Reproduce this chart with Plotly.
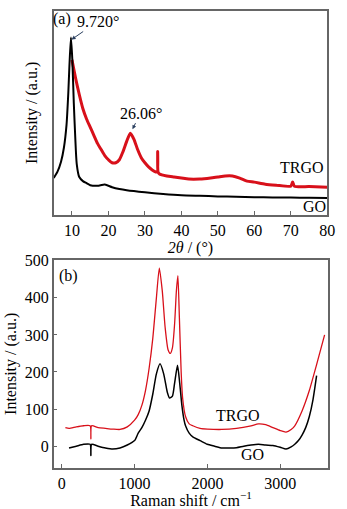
import plotly.graph_objects as go

# ---- (a) XRD data ----
xrd_go_x = [5, 6, 7, 7.8, 8.5, 9.0, 9.3, 9.72, 10.1, 10.5, 10.9, 11.3, 12, 13, 14, 15, 17, 19, 21, 23, 25, 30, 35, 40, 45, 50, 55, 60, 65, 70, 75, 80]
xrd_go_y = [18, 21, 26, 33, 44, 60, 73, 87, 76, 55, 38, 25, 18.5, 16.5, 15.5, 14.5, 14.2, 14.8, 13.5, 12.6, 12, 11, 10.2, 9.6, 9.3, 9.0, 8.8, 8.6, 8.5, 8.4, 8.3, 8.2]
xrd_trgo_x = [10, 11, 12, 13, 14, 15, 16, 17, 18, 19, 20, 21, 22, 23, 24, 25, 26, 27, 28, 29, 30, 31, 32, 33, 33.4, 33.5, 33.6, 34, 36, 38, 40, 42, 45, 48, 50, 52, 54, 56, 58, 60, 63, 66, 70, 70.5, 71, 75, 80]
xrd_trgo_y = [76, 67, 59, 52, 47, 43, 39, 35, 32, 29, 27, 25.5, 25.5, 27, 31, 36, 40, 37, 32, 28, 25.5, 23.5, 22, 21, 21, 31, 21, 20, 19, 18.5, 18, 17.5, 17.5, 18, 18.5, 19, 19, 18, 16.5, 16, 15, 14.5, 14, 16, 14, 13.8, 13.5]

# ---- (b) Raman data ----
ram_go_x = [100, 200, 300, 390, 400, 410, 500, 600, 700, 800, 900, 1000, 1050, 1100, 1150, 1200, 1250, 1300, 1350, 1400, 1450, 1480, 1520, 1550, 1590, 1620, 1650, 1680, 1700, 1750, 1800, 1900, 2000, 2100, 2200, 2300, 2400, 2500, 2600, 2700, 2800, 2900, 3000, 3080, 3150, 3200, 3250, 3300, 3350, 3400, 3450, 3500]
ram_go_y = [-5, 0, 5, 5, -25, 5, 0, -5, -8, -5, 3, 15, 35, 50, 70, 95, 140, 195, 222, 195, 145, 130, 135, 170, 218, 170, 110, 70, 55, 35, 25, 15, 5, 0, -5, -5, -4, 0, 3, 5, 3, 2, -3, -8, -2, 5, 15, 30, 50, 80, 125, 190]
ram_trgo_x = [50, 100, 200, 300, 390, 400, 410, 500, 600, 700, 800, 900, 1000, 1050, 1100, 1150, 1200, 1250, 1300, 1340, 1380, 1420, 1460, 1490, 1520, 1550, 1575, 1595, 1615, 1640, 1660, 1700, 1750, 1800, 1900, 2000, 2200, 2400, 2600, 2700, 2800, 2900, 3000, 3080, 3150, 3200, 3300, 3400, 3500, 3610]
ram_trgo_y = [50, 48, 52, 55, 55, 20, 55, 50, 48, 46, 45, 52, 70, 85, 110, 150, 210, 290, 400, 480, 420, 320, 260, 250, 265, 330, 420, 460, 350, 200, 130, 80, 60, 55, 48, 46, 45, 48, 55, 60, 58, 50, 42, 38, 45, 55, 95, 150, 220, 300]

red = "#d8101a"
blk = "#000000"
font_family = "Liberation Serif, Times New Roman, serif"
frame = "#666666"

fig = go.Figure()
fig.add_trace(go.Scatter(x=xrd_trgo_x, y=xrd_trgo_y, mode="lines", line=dict(color=red, width=3, shape="spline", smoothing=0.6), xaxis="x", yaxis="y", showlegend=False))
fig.add_trace(go.Scatter(x=xrd_go_x, y=xrd_go_y, mode="lines", line=dict(color=blk, width=2, shape="spline", smoothing=0.6), xaxis="x", yaxis="y", showlegend=False))
fig.add_trace(go.Scatter(x=ram_trgo_x, y=ram_trgo_y, mode="lines", line=dict(color=red, width=1.3, shape="spline", smoothing=0.6), xaxis="x2", yaxis="y2", showlegend=False))
fig.add_trace(go.Scatter(x=ram_go_x, y=ram_go_y, mode="lines", line=dict(color=blk, width=1.5, shape="spline", smoothing=0.6), xaxis="x2", yaxis="y2", showlegend=False))

tf = dict(family=font_family, size=16, color="black")
axcommon = dict(showline=True, linecolor=frame, linewidth=1.5, mirror=True, showgrid=False, zeroline=False,
                tickcolor=frame, tickfont=tf)

fig.update_layout(
    width=347, height=509, margin=dict(l=0, r=0, t=0, b=0),
    paper_bgcolor="white", plot_bgcolor="white",
    font=dict(family=font_family, size=16, color="black"),
    xaxis=dict(domain=[0.1585, 0.9654], anchor="y", range=[5, 80], tickvals=[10, 20, 30, 40, 50, 60, 70, 80],
               ticks="inside", ticklen=4,
               title=dict(text="<i>2θ</i> / (°)", standoff=2, font=tf), **axcommon),
    yaxis=dict(domain=[0.5874, 0.994], anchor="x", range=[0, 100], showticklabels=False, ticks="",
               title=dict(text="Intensity / (a.u.)", standoff=10, font=tf), **axcommon),
    xaxis2=dict(domain=[0.1585, 0.9683], anchor="y2", range=[-110, 3660], tickvals=[0, 1000, 2000, 3000],
                ticks="inside", ticklen=4,
                title=dict(text="Raman shift / cm<sup>−1</sup>", standoff=4, font=tf), **axcommon),
    yaxis2=dict(domain=[0.0825, 0.497], anchor="x2", range=[-58, 502], tickvals=[0, 100, 200, 300, 400, 500],
                ticks="inside", ticklen=4,
                title=dict(text="Intensity / (a.u.)", standoff=4, font=tf), **axcommon),
)

af = dict(family=font_family, size=16, color="black")
ann = []
ann.append(dict(xref="x", yref="y", x=7.4, y=96, text="(a)", showarrow=False, font=af))
ann.append(dict(xref="x", yref="y", x=9.9, y=86, text="9.720°", showarrow=True, arrowhead=2, arrowsize=0.8, arrowwidth=1,
                ax=26, ay=-18, font=af))
ann.append(dict(xref="x", yref="y", x=26.6, y=42, text="26.06°", showarrow=True, arrowhead=2, arrowsize=0.8, arrowwidth=1,
                ax=8, ay=-16, font=af))
ann.append(dict(xref="x", yref="y", x=73, y=23, text="TRGO", showarrow=False, font=af))
ann.append(dict(xref="x", yref="y", x=76.5, y=4, text="GO", showarrow=False, font=af))
ann.append(dict(xref="x2", yref="y2", x=90, y=460, text="(b)", showarrow=False, font=af))
ann.append(dict(xref="x2", yref="y2", x=2420, y=82, text="TRGO", showarrow=False, font=af))
ann.append(dict(xref="x2", yref="y2", x=2620, y=-22, text="GO", showarrow=False, font=af))
fig.update_layout(annotations=ann)

fig.write_html("out.html")
